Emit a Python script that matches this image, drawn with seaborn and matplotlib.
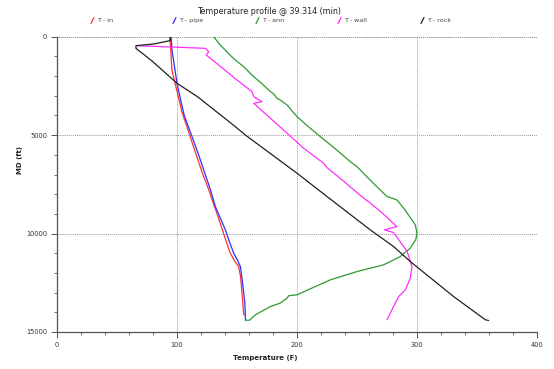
import numpy as np
import pandas as pd
import matplotlib
matplotlib.use("Agg")
import matplotlib.pyplot as plt
from matplotlib.lines import Line2D
from matplotlib.ticker import MultipleLocator
import seaborn as sns

sns.set_style("white")
plt.rcParams['font.family'] = ['DejaVu Sans']

title = "Temperature profile @ 39.314 (min)"
series_names = ["T - in", "T - pipe", "T - ann", "T - wall", "T - rock"]
series_colors = ["#ff3030", "#3030ff", "#2e9a2e", "#ff2eff", "#202020"]

t_in_T = [94.0, 94.5, 95.8, 98.5, 101, 104, 111, 116, 121, 126, 130.5, 134, 138.3, 141, 144.4, 148, 151.4, 153, 154.2, 155.5, 156]
t_in_D = [0, 400, 1690, 2400, 3000, 3800, 5075, 6000, 6900, 7700, 8500, 9100, 9900, 10400, 10995, 11400, 11675, 12200, 13025, 14040, 14150]

t_pipe_T = [95, 95.5, 95.8, 100, 103, 106, 112.5, 118, 123, 128, 132, 136, 140.3, 143, 147.2, 150, 152.8, 154, 155, 156.5, 156.9, 157]
t_pipe_D = [0, 300, 675, 2365, 3200, 4000, 5075, 6000, 6900, 7800, 8630, 9200, 9810, 10300, 10995, 11300, 11675, 12200, 12690, 13500, 14040, 14400]

t_ann_T = [130.5, 136, 147, 156, 163.9, 171, 177.8, 180.5, 183.3, 186, 191.7, 200, 210, 219.4, 232, 244.4, 250, 262, 275, 283.3, 290, 298.6, 300, 299, 294.4, 286, 272.2, 250, 227.8, 200, 193, 191.7, 186, 177.8, 165.3, 160.5, 157]
t_ann_D = [0, 420, 1100, 1550, 2030, 2400, 2790, 2900, 3130, 3213, 3470, 4060, 4600, 5075, 5700, 6345, 6600, 7350, 8120, 8290, 8800, 9560, 9980, 10300, 10740, 11170, 11590, 11930, 12350, 13110, 13160, 13280, 13535, 13705, 14130, 14400, 14400]

t_wall_T = [66.7, 123.6, 126.4, 124.4, 140, 150, 162.5, 164, 170.8, 163.9, 177, 191.7, 205.5, 222.2, 225, 240, 255.5, 260, 270, 283.3, 272.8, 280.5, 291.7, 295.8, 294.4, 290.3, 284.7, 280.5, 275]
t_wall_D = [457, 590, 760, 930, 1700, 2200, 2790, 3050, 3300, 3380, 4100, 4900, 5665, 6425, 6650, 7400, 8200, 8400, 8900, 9645, 9810, 9950, 10900, 11675, 12265, 12860, 13200, 13705, 14380]

t_rock_T = [94.4, 94.4, 80.5, 65.8, 65.8, 79.5, 100, 117, 144.4, 158, 200, 227.8, 261, 280.5, 294.4, 330.5, 357, 359.7]
t_rock_D = [0, 200, 370, 457, 590, 1250, 2365, 3045, 4365, 5040, 6935, 8250, 9810, 10660, 11420, 13200, 14380, 14415]

series = [(t_in_T, t_in_D), (t_pipe_T, t_pipe_D), (t_ann_T, t_ann_D), (t_wall_T, t_wall_D), (t_rock_T, t_rock_D)]

W, H = 554, 369
fig = plt.figure(figsize=(W / 100, H / 100), dpi=100)
ax = fig.add_axes([57 / W, 1 - 332 / H, 480 / W, (332 - 36.7) / H])

for name, color, (T, D) in zip(series_names, series_colors, series):
    df = pd.DataFrame({"T": T, "D": D})
    sns.lineplot(data=df, x="T", y="D", sort=False, estimator=None, color=color, lw=0.9, ax=ax)

ax.set_xlim(0, 400)
ax.set_ylim(15000, 0)
ax.xaxis.set_major_locator(MultipleLocator(100))
ax.xaxis.set_minor_locator(MultipleLocator(20))
ax.yaxis.set_major_locator(MultipleLocator(5000))
ax.yaxis.set_minor_locator(MultipleLocator(1000))
ax.tick_params(axis="both", which="major", direction="out", length=4, width=0.7, color="#555555",
               labelsize=4.8, labelcolor="#333333", pad=3, bottom=True, left=True)
ax.tick_params(axis="both", which="minor", direction="out", length=2.5, width=0.6, color="#555555",
               bottom=True, left=True)
ax.grid(True, which="major", linestyle=(0, (1, 1)), color="#999999", lw=0.7)
for s in ["top", "right"]:
    ax.spines[s].set_visible(False)
for s in ["left", "bottom"]:
    ax.spines[s].set_color("#555555")
    ax.spines[s].set_linewidth(0.9)
ax.axhline(0, linestyle=(0, (1, 1)), color="#999999", lw=0.7, zorder=0)
ax.axvline(400, linestyle=(0, (1, 1)), color="#999999", lw=0.7, zorder=0)
ax.set_xlabel("")
ax.set_ylabel("")

fig.text(269 / W, 1 - 11 / H, title, ha="center", va="center", fontsize=5.8, color="#222222")
fig.text(265 / W, 1 - 358 / H, "Temperature (F)", ha="center", va="center", fontsize=5, color="#222222", fontweight="bold")
fig.text(20 / W, 1 - 160 / H, "MD (ft)", ha="center", va="center", rotation=90, fontsize=5, color="#222222", fontweight="bold")

leg_x = [93, 175, 258, 340, 423]
ly = 20.5
for x, name, color in zip(leg_x, series_names, series_colors):
    fig.add_artist(Line2D([(x - 2) / W, (x + 1) / W], [1 - (ly + 3) / H, 1 - (ly - 3) / H],
                          transform=fig.transFigure, color=color, lw=0.9))
    fig.text((x + 4) / W, 1 - ly / H, name, ha="left", va="center", fontsize=4.6, color="#444444")

fig.savefig("out.png", dpi=100)
